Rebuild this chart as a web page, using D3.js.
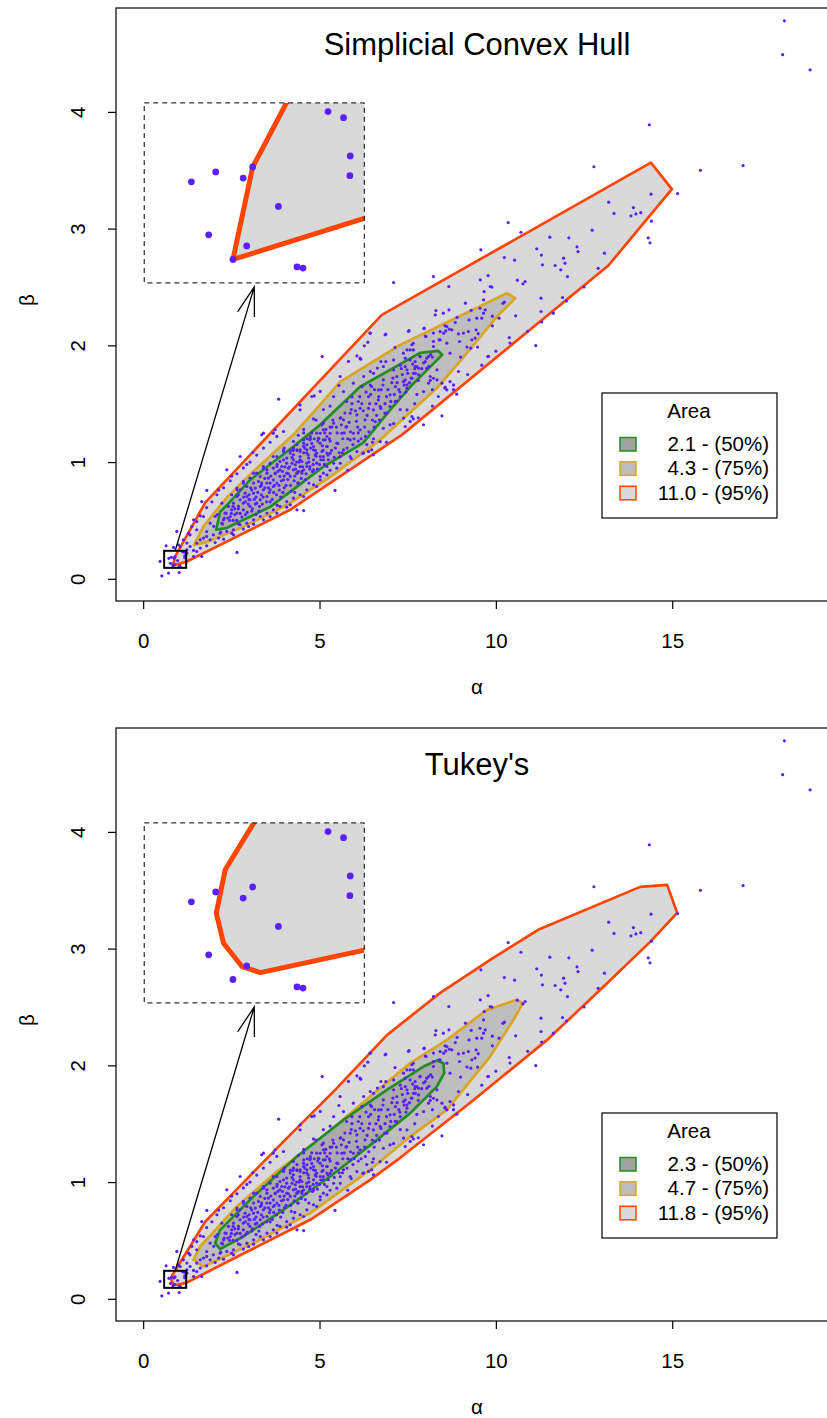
<!DOCTYPE html>
<html>
<head>
<meta charset="utf-8">
<script src="https://cdn.jsdelivr.net/npm/d3@7"></script>
<style>
  body { margin: 0; background: #fff; }
  text { font-family: "Liberation Sans", Arial, sans-serif; fill: #000; }
</style>
</head>
<body>
<script>
// ---- data (alpha, beta) ----
var xTicks = [0, 5, 10, 15];
var yTicks = [0, 1, 2, 3, 4];
var levels = ["50%", "75%", "95%"];
var simpAreas = [2.1, 4.3, 11.0];
var tukAreas = [2.3, 4.7, 11.8];
var titles = ["Simplicial Convex Hull", "Tukey's"];

// zoomed corner and where its enlargement sits, both in data units
var zoomA = [0.595, 1.22], zoomB = [0.094, 0.24];
var insetA = [0.03, 6.27], insetB = [2.535, 4.077];

var zoomPts = [[1.117,0.233],[1.161,0.228],[1.18,0.197],[1.179,0.181],[0.903,0.188],[0.876,0.179],[0.798,0.184],
  [0.729,0.176],[0.976,0.156],[0.778,0.133],[0.886,0.124],[0.847,0.113],[1.029,0.107],[1.046,0.106]];

var tailPts = [[0.53,0.026],[0.72,0.049],[1.02,0.054],[0.48,0.149],[0.65,0.283],[0.955,0.406],[0.86,0.269],[1.0,0.291],
  [1.05,0.277],[1.24,0.306],[1.33,0.377],[1.33,0.277],[1.43,0.506],[1.43,0.191],[1.52,0.234],[1.66,0.191],[1.24,0.249],
  [1.24,0.22],[1.14,0.334],[1.29,0.391],[1.38,0.448],[1.43,0.243],[1.62,0.263],[1.8,0.283],[2.04,0.311],[2.28,0.34],
  [2.56,0.377],[2.84,0.426],[3.13,0.468],[3.6,0.534],[4.07,0.614],[2.66,0.226],[1.52,0.42],[1.71,0.534],[1.52,0.49],
  [1.62,0.54],[1.8,0.61],[1.95,0.66],[2.09,0.72],[2.28,0.78],[2.47,0.84],[2.66,0.9],[2.84,0.95],[3.03,1.0],[3.22,1.06],
  [3.41,1.12],[3.6,1.17],[3.79,1.22],[2.14,0.76],[2.51,0.88],[2.94,0.98]];

var farPts = [[1.805,0.757],[1.66,0.662],[2.75,1.048],[3.11,1.082],[3.36,1.234],[3.69,1.248],[3.84,1.539],[3.41,1.248],
  [3.74,1.277],[3.98,1.262],[4.45,1.49],[4.78,1.562],[5.02,1.605],[5.82,1.862],[6.15,1.89],[6.43,2.105],[6.86,2.09],
  [7.52,2.12],[7.62,2.005],[2.37,0.934],[6.44,2.104],[6.88,2.096],[7.97,2.147],[6.37,2.027],[6.27,1.996],[5.075,1.904],
  [6.06,1.91],[6.17,1.882],[6.74,1.861],[6.88,1.861],[7.14,1.981],[7.48,1.961],[6.64,1.805],[6.44,1.776],[5.585,1.733],
  [4.85,1.567],[5.55,1.656],[4.45,1.448],[5.44,0.757],[4.55,0.585],[4.36,0.591],[7.1,2.538]];

var upperPts = [[18.18,4.78],[18.13,4.49],[18.91,4.36],[14.35,3.89],[12.78,3.53],[15.8,3.5],[17.01,3.54],[15.15,3.3],
  [14.4,3.295],[13.2,3.227],[13.9,3.18],[13.35,3.13],[13.83,3.11],[13.97,3.126],[14.11,3.137],[14.41,3.064],[14.32,2.921],
  [14.37,2.878],[10.35,3.052],[10.71,2.969],[12.73,2.987],[11.53,2.927],[12.07,2.921],[9.575,2.818],[8.23,2.589],
  [8.667,2.504],[11.16,2.827],[11.29,2.773],[12.3,2.844],[12.33,2.803],[13.08,2.79],[11.92,2.747],[11.96,2.704],
  [11.68,2.684],[11.32,2.69],[11.84,2.647],[12.03,2.589],[10.24,2.752],[10.53,2.73],[9.78,2.598],[9.56,2.561],[9.84,2.504],
  [9.886,2.499],[10.61,2.558],[10.83,2.547],[10.77,2.527],[9.668,2.461],[9.138,2.361],[10.24,2.37],[11.28,2.404],
  [11.89,2.41],[11.28,2.29],[11.63,2.276],[10.56,2.253],[9.55,2.318],[9.7,2.304]];

var midPts = [[7.54,2.126],[7.96,2.144],[8.3,2.298],[8.51,2.276],[8.67,2.304],[8.28,2.261],[9.65,2.39],[8.56,2.167],
  [8.68,2.139],[8.75,2.133],[8.58,2.124],[8.85,2.195],[9.24,2.218],[9.46,2.233],[9.6,2.233],[9.65,2.276],[9.9,2.167],
  [10.09,2.233],[8.23,2.105],[8.42,2.118],[8.02,2.075],[8.94,2.098],[9.08,2.105],[9.22,2.118],[9.44,2.133],[9.32,2.047],
  [9.41,2.062],[8.23,2.033],[8.39,2.047],[8.61,2.019],[8.97,2.033],[9.18,1.985],[9.48,1.985],[9.29,1.976],[8.7,1.933],
  [9.77,1.904],[10.38,2.067],[11.13,1.998],[7.66,2.018],[7.57,1.961],[7.43,1.89],[7.71,1.861],[7.85,1.904],[8.09,1.904],
  [7.48,1.79],[7.66,1.761],[7.81,1.804],[7.62,1.718],[8.04,1.804],[8.14,1.733],[8.33,1.79],[8.23,1.718],[8.47,1.676],
  [8.7,1.69],[8.94,1.776],[7.38,1.69],[7.48,1.661],[8.56,1.633],[8.8,1.661],[8.47,1.396],[7.95,1.32],[8.89,1.582],
  [8.56,1.642],[9.79,1.905],[8.37,1.562],[7.38,1.377],[7.62,1.39],[7.57,1.348],[7.43,1.305],[6.39,1.091],[6.53,1.062],
  [6.25,1.077],[7.66,1.37],[6.72,1.176],[6.23,1.076],[6.48,1.105],[8.61,1.619],[8.09,1.676],[7.76,1.818]];

var bandPts = [[4.55,1.28],[4.83,1.37],[5.11,1.45],[5.4,1.561],[5.68,1.604],[5.96,1.676],[6.25,1.733],[6.53,1.761],
  [6.81,1.818],[7.1,1.875],[7.38,1.933],[7.66,1.961],[8.23,1.99],[8.42,2.047],[8.52,2.104],[8.61,2.161],[5.11,0.905],
  [5.59,0.99],[6.06,1.09],[6.53,1.2],[7.0,1.319],[7.48,1.447],[7.95,1.604],[8.33,1.704],[5.87,1.047],[6.34,1.15],
  [6.81,1.29],[7.29,1.45],[7.76,1.58],[8.14,1.7],[1.9,0.477],[2.04,0.534],[2.23,0.648],[2.66,0.762],[2.84,0.834],
  [3.13,0.905],[3.41,0.962],[3.69,1.048],[3.98,1.105],[4.26,1.177],[4.55,1.25],[1.8,0.405],[1.62,0.334],[1.52,0.306],
  [1.71,0.349],[1.8,0.363],[1.99,0.377],[2.18,0.391],[2.37,0.406],[2.56,0.42],[2.75,0.463],[2.94,0.477],[3.13,0.505],
  [3.32,0.534],[3.51,0.563],[3.69,0.591],[3.88,0.62],[4.07,0.662],[4.26,0.691],[4.45,0.72],[4.64,0.762],[4.83,0.805],
  [5.02,0.848],[5.21,0.891],[1.9,0.334],[2.14,0.349],[2.51,0.391],[2.99,0.448],[3.41,0.505],[3.79,0.563],[4.17,0.634],
  [4.55,0.705],[4.92,0.791],[5.8,0.93],[6.9,1.17],[7.8,1.38],[8.2,1.48],[8.8,1.62],[9.2,1.75],[9.6,1.83],[10.0,1.95],
  [10.4,2.02],[10.9,2.12],[11.3,2.2],[12.0,2.38],[12.5,2.5],[12.9,2.66],
  [2.0,0.45],[2.1,0.55],[2.2,0.4],[2.7,0.47],[3.2,0.55],[3.8,0.63],[4.3,0.74],[4.7,0.82],[5.3,0.93],[5.9,1.03],
  [6.5,1.17],[7.1,1.33],[7.7,1.5],[8.2,1.62],[9.0,1.9],[9.5,2.1],[9.9,2.25],[10.2,2.36],[9.3,2.3],[8.9,2.24],[8.0,2.08],
  [4.0,1.12],[4.4,1.23],[4.9,1.36],[5.3,1.48]];

var corePts = [[7.85,1.904],[7.71,1.818],[7.43,1.818],[7.19,1.733],[7.43,1.704],[7.81,1.747],[7.48,1.633],[7.15,1.647],
  [7.0,1.576],[6.67,1.618],[6.44,1.66],[6.48,1.647],[6.72,1.476],[7.0,1.476],[7.29,1.561],[7.19,1.519],[6.91,1.419],
  [6.53,1.447],[6.29,1.362],[6.58,1.347],[6.1,1.519],[6.15,1.461],[5.87,1.419],[5.77,1.519],[6.06,1.404],[6.15,1.276],
  [5.96,1.247],[5.77,1.304],[5.59,1.376],[5.4,1.333],[5.63,1.247],[5.87,1.19],[5.3,1.247],[5.49,1.162],[5.21,1.133],
  [5.11,1.19],[5.02,1.247],[4.74,1.219],[4.83,1.133],[4.64,1.105],[4.92,1.076],[5.11,1.047],[5.3,1.076],[5.4,0.99],
  [5.59,1.047],[5.68,1.105],[4.45,1.019],[4.64,0.962],[4.36,0.905],[4.83,0.933],[5.02,0.876],[4.26,1.119],[4.55,1.162],
  [6.2,1.647],[6.39,1.561],[5.92,1.56],[6.81,1.704],[7.1,1.79],[7.57,1.875],[8.04,1.89],[7.29,1.83],[6.67,1.533],
  [6.39,1.461],[5.68,1.362],[5.11,1.333],[4.74,1.2],[4.36,1.1],[4.45,1.105],[5.21,0.962],[5.49,0.948],[4.5,0.905],
  [4.22,0.99],[2.28,0.505],[2.47,0.534],[2.66,0.563],[2.84,0.591],[3.03,0.62],[2.56,0.648],[2.75,0.677],[2.94,0.705],
  [3.13,0.734],[3.32,0.677],[3.51,0.705],[3.32,0.791],[3.51,0.82],[3.69,0.848],[3.88,0.877],[4.07,0.905],[4.26,0.934],
  [4.45,0.962],[4.64,0.991],[4.83,1.019],[5.02,1.048],[3.79,0.962],[3.98,1.019],[4.17,1.077],[4.36,1.105],[4.55,1.134],
  [4.73,1.191],[4.92,1.248],[5.11,1.276],[5.21,1.134],[5.02,1.162],[4.83,1.105],[4.64,1.077],[4.45,1.048],[4.26,1.019],
  [4.07,0.991],[3.88,0.934],[3.69,0.791],[3.51,0.905],[3.32,0.877],[3.13,0.82],[2.94,0.791],[2.75,0.762],[2.66,0.705],
  [2.84,0.648],[3.03,0.677],[3.22,0.648],[3.41,0.762],[3.6,0.762],[3.79,0.82],[3.98,0.848],[4.17,0.877],[4.36,0.905],
  [4.55,0.934],[4.73,0.962],[4.92,0.991],[5.11,1.019],[5.21,1.077],[5.21,1.219],[5.07,1.319],[4.78,1.25],[4.55,1.19],
  [4.36,1.15],[4.17,1.1],[3.98,1.091],[3.79,1.048],[3.6,0.991],[3.41,0.948],[3.22,0.905],[3.03,0.862],[2.84,0.82],
  [2.66,0.777],[2.51,0.72],[2.42,0.62],[2.32,0.563],[2.23,0.477],[3.18,0.777],[3.36,0.82],[3.55,0.862],[3.74,0.905],
  [3.93,0.962],[4.12,0.948],[4.31,0.977],[4.5,1.005],[4.69,1.034],[4.88,1.062],[5.07,1.091],[5.16,1.191],[4.97,1.205],
  [4.64,1.148],[4.45,1.091],[4.26,1.062],[4.07,1.034],[3.88,1.005],[3.69,0.948],[3.51,0.934],[3.27,0.834],[3.08,0.762],
  [2.89,0.734],[2.7,0.62],[2.51,0.591],[2.6,0.55],[2.7,0.6],[2.8,0.53],[2.9,0.66],[3.0,0.72],[3.1,0.6],[3.15,0.68],
  [3.25,0.74],[3.3,0.62],[3.4,0.7],[3.45,0.86],[3.55,0.78],[3.6,0.66],[3.7,0.74],[3.75,0.9],[3.85,0.8],[3.9,0.7],
  [3.95,0.92],[4.0,0.78],[4.1,0.85],[4.15,0.96],[4.2,0.75],[4.3,0.88],[4.35,1.0],[4.4,0.82],[4.5,0.92],[4.55,1.08],
  [4.6,0.85],[4.7,1.0],[4.75,1.12],[4.8,0.92],[4.9,1.05],[4.95,1.18],[5.0,0.98],[5.1,1.1],[5.15,1.25],[5.25,1.02],
  [5.3,1.18],[5.35,1.3],[5.45,1.12],[5.5,1.25],[5.6,1.38],[5.65,1.08],[5.75,1.3],[5.8,1.2],[5.9,1.45],[5.95,1.15],
  [6.05,1.35],[6.1,1.25],[6.2,1.5],[6.3,1.22],[6.35,1.4],[6.45,1.58],[6.55,1.3],[6.6,1.5],[6.75,1.62],[6.85,1.42],
  [6.9,1.56],[7.05,1.68],[7.15,1.52],[7.25,1.62],[7.35,1.75],[7.45,1.6],[7.6,1.72],[7.7,1.8],[7.8,1.7],[7.95,1.85],
  [8.1,1.82],[8.2,1.9],[2.45,0.5],[2.35,0.56],[2.25,0.47],[2.55,0.62],[2.95,0.57],[3.35,0.8],[3.8,0.98],[4.25,1.1],
  [4.65,1.2]];

var corePts2 = [[2.4,0.52],[2.5,0.56],[2.6,0.6],[2.65,0.5],[2.75,0.56],[2.85,0.7],[2.9,0.55],[2.98,0.64],[3.05,0.78],
  [3.08,0.58],[3.18,0.64],[3.2,0.7],[3.28,0.58],[3.35,0.72],[3.38,0.64],[3.45,0.78],[3.5,0.66],[3.58,0.74],[3.62,0.88],
  [3.66,0.68],[3.72,0.8],[3.78,0.72],[3.82,0.92],[3.86,0.76],[3.92,0.84],[3.96,0.74],[4.02,0.96],[4.05,0.8],[4.12,0.9],
  [4.18,0.8],[4.22,1.04],[4.28,0.84],[4.32,0.94],[4.38,0.82],[4.42,1.0],[4.48,0.86],[4.52,0.96],[4.58,1.12],[4.62,0.9],
  [4.68,1.06],[4.72,0.94],[4.78,1.16],[4.82,0.98],[4.88,1.1],[4.94,0.94],[4.98,1.2],[5.04,1.02],[5.08,1.14],[5.14,0.98],
  [5.18,1.28],[5.24,1.06],[5.28,1.2],[5.34,1.1],[5.38,1.36],[5.42,1.04],[5.48,1.3],[5.52,1.16],[5.56,1.08],[5.62,1.32],
  [5.66,1.2],[5.72,1.42],[5.78,1.12],[5.84,1.34],[5.88,1.26],[5.92,1.5],[5.98,1.2],[6.02,1.44],[6.08,1.3],[6.14,1.56],
  [6.18,1.2],[6.24,1.44],[6.28,1.3],[6.32,1.6],[6.4,1.26],[6.42,1.5],[6.5,1.36],[6.56,1.62],[6.62,1.4],[6.68,1.56],
  [6.74,1.46],[6.8,1.66],[6.86,1.5],[6.94,1.62],[7.02,1.52],[7.08,1.72],[7.12,1.58],[7.2,1.68],[7.28,1.6],[7.32,1.8],
  [7.4,1.66],[7.5,1.76],[7.55,1.68],[7.64,1.84],[7.72,1.76],[7.9,1.8],[8.0,1.86],[8.15,1.92],[2.3,0.52],[2.55,0.5],
  [2.7,0.72],[3.0,0.68],[3.6,0.82],[4.0,0.88],[4.4,0.92],[4.85,1.2],[5.3,1.3],[5.7,1.25],[6.1,1.18],[6.7,1.36]];

// depth regions: 50%, 75%, 95%
var simpInner = [[2.07,0.42],[2.183,0.574],[2.382,0.634],[3.034,0.848],[4.253,1.131],[5.018,1.319],[6.153,1.645],
  [7.854,1.936],[8.364,1.953],[8.477,1.919],[8.336,1.876],[7.57,1.645],[7.003,1.448],[6.238,1.165],[5.103,0.959],
  [3.601,0.617],[2.382,0.437]];
var simpMid = [[1.446,0.291],[1.70,0.445],[2.38,0.70],[3.23,0.95],[4.31,1.25],[5.585,1.687],[7.287,2.004],[10.312,2.447],
  [10.547,2.404],[10.028,2.247],[9.178,1.933],[8.336,1.636],[6.72,1.191],[5.302,0.874],[4.083,0.634],[2.835,0.445],[1.75,0.31]];
var simpOuter = [[0.847,0.113],[0.903,0.188],[1.76,0.653],[6.767,2.261],[14.395,3.566],[14.99,3.338],[13.19,2.684],
  [7.335,1.233],[4.168,0.591],[1.239,0.148]];

var tukInner = [[2.041,0.477],[2.183,0.591],[3.127,0.876],[4.358,1.219],[5.679,1.533],[6.91,1.79],[7.947,1.99],[8.327,2.041],
  [8.514,2.019],[8.534,1.933],[8.327,1.818],[7.57,1.591],[6.626,1.362],[5.302,1.048],[3.978,0.762],[2.844,0.534],[2.183,0.426]];
var tukMid = [[1.426,0.334],[1.616,0.448],[2.657,0.791],[3.791,1.09],[5.112,1.39],[6.436,1.733],[7.57,2.019],[8.61,2.218],
  [9.745,2.475],[10.596,2.561],[10.766,2.533],[10.499,2.39],[9.838,2.075],[9.223,1.848],[8.61,1.619],[7.57,1.39],
  [6.436,1.105],[4.735,0.734],[3.127,0.477],[1.71,0.277]];
var tukOuter = [[0.8203,0.1424],[0.7996,0.1668],[0.825,0.202],[0.906,0.24],[1.758,0.66],[2.75,0.968],[4.026,1.362],
  [5.444,1.79],[6.918,2.261],[8.421,2.621],[9.838,2.904],[11.199,3.161],[14.091,3.529],[14.856,3.546],[15.14,3.306],
  [14.374,3.058],[13.042,2.672],[11.454,2.218],[9.271,1.679],[7.287,1.208],[6.436,1.019],[4.735,0.677],[2.665,0.36],
  [1.223,0.137],[0.9246,0.1186],[0.8726,0.1235]];

var points = zoomPts.concat(tailPts, farPts, upperPts, midPts, bandPts, corePts, corePts2);

// ---- look ----
var strokes = ["#228b22", "#daa520", "#ff4500"];
var fills = ["#ababab", "#bebebe", "#d9d9d9"];
var keyFills = ["#a2a2a2", "#bcbcbc", "#d9d9d9"];
var ptColor = "#5a21fb";

var svg = d3.select("body").append("svg")
  .attr("width", 827)
  .attr("height", 1418)
  .style("font-family", "'Liberation Sans', Arial, sans-serif");

var x = d3.scaleLinear().domain([-0.77, 19.7]).range([116, 838]);
var y = d3.scaleLinear().domain([-0.19, 4.89]).range([601, 8]);

// enlargement of the small corner box
var xi = d3.scaleLinear().domain(zoomA).range([x(insetA[0]), x(insetA[1])]);
var yi = d3.scaleLinear().domain(zoomB).range([y(insetB[0]), y(insetB[1])]);

function drawPanel(top, id, title, hulls, areas) {
  var g = svg.append("g").attr("transform", "translate(0," + top + ")");

  g.append("clipPath").attr("id", "plot" + id)
    .append("rect").attr("x", 116).attr("y", 8).attr("width", 722).attr("height", 593);

  var plot = g.append("g").attr("clip-path", "url(#plot" + id + ")");
  var hullLine = d3.line().x(function(d){ return x(d[0]); }).y(function(d){ return y(d[1]); })
    .curve(d3.curveLinearClosed);

  // outer region first, inner last
  for (var i = 2; i >= 0; i--) {
    plot.append("path").datum(hulls[i])
      .attr("d", hullLine)
      .attr("fill", fills[i])
      .attr("stroke", strokes[i])
      .attr("stroke-width", 2.7)
      .attr("stroke-linejoin", "round");
  }

  plot.selectAll(".pt")
    .data(points)
    .enter()
    .append("circle")
    .attr("class", "pt")
    .attr("cx", function(d){ return x(d[0]); })
    .attr("cy", function(d){ return y(d[1]); })
    .attr("r", 1.6)
    .attr("fill", ptColor);

  // inset
  var ix0 = x(insetA[0]), ix1 = x(insetA[1]), iy0 = y(insetB[1]), iy1 = y(insetB[0]);
  g.append("clipPath").attr("id", "inset" + id)
    .append("rect").attr("x", ix0).attr("y", iy0).attr("width", ix1 - ix0).attr("height", iy1 - iy0);
  g.append("rect").attr("x", ix0).attr("y", iy0).attr("width", ix1 - ix0).attr("height", iy1 - iy0)
    .attr("fill", "#fff");

  var inset = g.append("g").attr("clip-path", "url(#inset" + id + ")");
  var insetLine = d3.line().x(function(d){ return xi(d[0]); }).y(function(d){ return yi(d[1]); })
    .curve(d3.curveLinearClosed);
  inset.append("path").datum(hulls[2])
    .attr("d", insetLine)
    .attr("fill", fills[2])
    .attr("stroke", strokes[2])
    .attr("stroke-width", 5)
    .attr("stroke-linejoin", "round");
  inset.selectAll(".ipt")
    .data(points.filter(function(d){ return d[0] >= zoomA[0] - 0.05 && d[0] <= zoomA[1] + 0.05 && d[1] >= zoomB[0] - 0.02 && d[1] <= zoomB[1] + 0.02; }))
    .enter()
    .append("circle")
    .attr("class", "ipt")
    .attr("cx", function(d){ return xi(d[0]); })
    .attr("cy", function(d){ return yi(d[1]); })
    .attr("r", 3.4)
    .attr("fill", ptColor);

  g.append("rect").attr("x", ix0).attr("y", iy0).attr("width", ix1 - ix0).attr("height", iy1 - iy0)
    .attr("fill", "none").attr("stroke", "#000").attr("stroke-width", 1).attr("stroke-dasharray", "5,4");

  // small box at the tail
  g.append("rect")
    .attr("x", x(zoomA[0])).attr("y", y(zoomB[1]))
    .attr("width", x(zoomA[1]) - x(zoomA[0])).attr("height", y(zoomB[0]) - y(zoomB[1]))
    .attr("fill", "none").attr("stroke", "#000").attr("stroke-width", 2);

  // arrow from the box to the inset
  var ax0 = x((zoomA[0] + zoomA[1]) / 2), ay0 = y(zoomB[1]);
  var ax1 = (ix0 + ix1) / 2, ay1 = iy1 + 4;
  var ang = Math.atan2(ay0 - ay1, ax0 - ax1), len = 30, spread = 17 * Math.PI / 180;
  g.append("path")
    .attr("d", "M" + ax0 + "," + ay0 + "L" + ax1 + "," + ay1 +
      "M" + (ax1 + len * Math.cos(ang - spread)) + "," + (ay1 + len * Math.sin(ang - spread)) +
      "L" + ax1 + "," + ay1 +
      "L" + (ax1 + len * Math.cos(ang + spread)) + "," + (ay1 + len * Math.sin(ang + spread)))
    .attr("fill", "none").attr("stroke", "#000").attr("stroke-width", 1.3);

  // frame
  g.append("rect").attr("x", 116).attr("y", 8).attr("width", 722).attr("height", 593)
    .attr("fill", "none").attr("stroke", "#000").attr("stroke-width", 1.2);

  // axes
  var xa = g.append("g").attr("transform", "translate(0,601)")
    .call(d3.axisBottom(x).tickValues(xTicks).tickSize(8).tickFormat(d3.format("d")));
  xa.select(".domain").remove();
  xa.selectAll("line").attr("stroke", "#000").attr("stroke-width", 1.2);
  xa.selectAll("text").attr("y", 47).attr("dy", null)
    .attr("font-size", 20.5).attr("font-family", "'Liberation Sans', Arial, sans-serif");

  var ya = g.append("g").attr("transform", "translate(116,0)")
    .call(d3.axisLeft(y).tickValues(yTicks).tickSize(8).tickFormat(d3.format("d")));
  ya.select(".domain").remove();
  ya.selectAll("line").attr("stroke", "#000").attr("stroke-width", 1.2);
  ya.selectAll("text").attr("x", 0).attr("dy", null)
    .attr("text-anchor", "middle")
    .attr("transform", "translate(-31,0) rotate(-90)")
    .attr("font-size", 20.5).attr("font-family", "'Liberation Sans', Arial, sans-serif");

  g.append("text").attr("x", 477).attr("y", 694).attr("text-anchor", "middle")
    .attr("font-size", 20.5).text("\u03b1");
  g.append("text").attr("transform", "translate(34,300) rotate(-90)").attr("text-anchor", "middle")
    .attr("font-size", 20.5).text("\u03b2");

  g.append("text").attr("x", 477).attr("y", 55).attr("text-anchor", "middle")
    .attr("font-size", 31).text(title);

  // legend
  var lg = g.append("g");
  lg.append("rect").attr("x", 602).attr("y", 393).attr("width", 175).attr("height", 125)
    .attr("fill", "#fff").attr("stroke", "#000").attr("stroke-width", 1.2);
  lg.append("text").attr("x", 689).attr("y", 418).attr("text-anchor", "middle")
    .attr("font-size", 20.5).text("Area");
  var rows = lg.selectAll(".row")
    .data(levels)
    .enter()
    .append("g")
    .attr("class", "row")
    .attr("transform", function(d, i){ return "translate(0," + (451 + i * 24.4) + ")"; });
  rows.append("rect").attr("x", 620).attr("y", -13.5).attr("width", 16).attr("height", 13.5)
    .attr("fill", function(d, i){ return keyFills[i]; })
    .attr("stroke", function(d, i){ return strokes[i]; })
    .attr("stroke-width", 1.5);
  rows.append("text").attr("x", 769).attr("text-anchor", "end").attr("font-size", 20.5)
    .text(function(d, i){ return areas[i].toFixed(1) + " - (" + d + ")"; });
}

drawPanel(0, "a", titles[0], [simpInner, simpMid, simpOuter], simpAreas);
drawPanel(720, "b", titles[1], [tukInner, tukMid, tukOuter], tukAreas);
</script>
</body>
</html>
